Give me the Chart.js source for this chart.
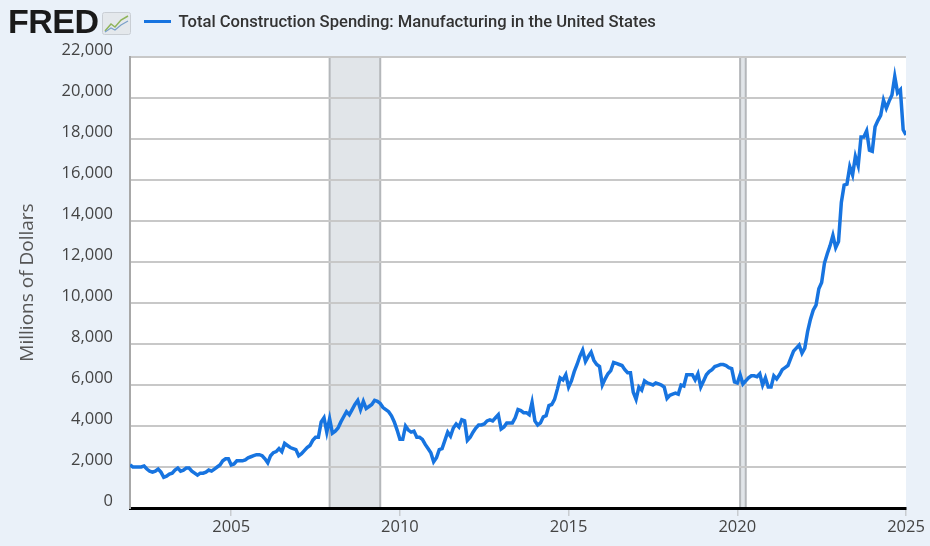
<!DOCTYPE html>
<html>
<head>
<meta charset="utf-8">
<script src="https://cdn.jsdelivr.net/npm/chart.js@4"></script>
<style>
  html, body { margin: 0; padding: 0; background: #eaf1f9; }
  #wrap { position: relative; width: 930px; height: 546px; overflow: hidden; }
  #chart { position: absolute; left: 0; top: 0; }
  #head { position: absolute; left: 8px; top: 1px; height: 40px; display: flex; align-items: center; }
  #logo { font-family: "Liberation Sans", Arial, sans-serif; font-weight: bold; font-size: 34px; letter-spacing: -0.5px; color: #1a1a1a; }
  #icon { margin-left: 3px; margin-top: 5px; }
  #key { width: 27px; height: 3px; background: #1774e0; margin-left: 13px; margin-top: 0px; }
  #title { margin-left: 8px; margin-top: 0px; font-family: Roboto, "Noto Sans", sans-serif; font-weight: 500; font-size: 16.6px; color: #333; }
</style>
</head>
<body>
<div id="wrap">
  <canvas id="chart" width="930" height="546"></canvas>
  <div id="head">
    <span id="logo">FRED</span>
    <svg id="icon" width="29" height="23" viewBox="0 0 29 23">
      <rect x="0.5" y="0.5" width="28" height="22" rx="2" fill="#e4e8ec" stroke="#c9ced4"/>
      <polyline points="3,19 9,12 13,15 19,8 26,4" fill="none" stroke="#8fb45a" stroke-width="1.5"/>
      <polyline points="3,20 9,16 13,18 19,13 26,9" fill="none" stroke="#7aa0c8" stroke-width="1.2"/>
    </svg>
    <div id="key"></div>
    <span id="title">Total Construction Spending: Manufacturing in the United States</span>
  </div>
</div>
<script>
// monthly, Jan 2002 .. Jan 2025, millions of dollars
const startYear = 2002;
const spending = [
  // 2002
  2100, 2000, 2000, 2000, 2000, 2050, 1900, 1800, 1750, 1800, 1900, 1750,
  // 2003
  1500, 1550, 1650, 1700, 1850, 1950, 1800, 1850, 1950, 1950, 1800, 1700,
  // 2004
  1600, 1700, 1700, 1750, 1850, 1800, 1900, 2000, 2100, 2300, 2400, 2400,
  // 2005
  2100, 2150, 2300, 2300, 2300, 2350, 2450, 2500, 2550, 2600, 2600, 2550,
  // 2006
  2400, 2200, 2550, 2700, 2750, 2900, 2750, 3150, 3050, 2950, 2900, 2850,
  // 2007
  2550, 2650, 2800, 2950, 3050, 3300, 3450, 3450, 4200, 4400, 3700, 4350,
  // 2008
  3650, 3750, 3900, 4200, 4450, 4700, 4550, 4800, 5050, 5250, 4800, 5200,
  // 2009
  4850, 4950, 5050, 5250, 5200, 5100, 4900, 4800, 4700, 4500, 4200, 3800,
  // 2010
  3350, 3350, 4000, 3800, 3700, 3750, 3450, 3450, 3350, 3100, 2900, 2700,
  // 2011
  2250, 2450, 2850, 2900, 3300, 3700, 3500, 3900, 4100, 3950, 4300, 4250,
  // 2012
  3300, 3450, 3700, 3900, 4050, 4050, 4100, 4250, 4300, 4250, 4400, 4550,
  // 2013
  3850, 3950, 4150, 4150, 4150, 4400, 4800, 4750, 4650, 4650, 4550, 5150,
  // 2014
  4250, 4050, 4150, 4450, 4500, 5000, 5050, 5300, 5800, 6350, 6250, 6500,
  // 2015
  5900, 6200, 6650, 7000, 7400, 7700, 7150, 7400, 7600, 7200, 7000, 6900,
  // 2016
  6000, 6300, 6550, 6700, 7100, 7050, 7000, 6950, 6750, 6600, 6600, 5650,
  // 2017
  5300, 5900, 5750, 6200, 6100, 6050, 6000, 6100, 6050, 6000, 5900, 5350,
  // 2018
  5500, 5550, 5600, 5550, 6000, 5950, 6500, 6500, 6500, 6250, 6550, 5900,
  // 2019
  6200, 6500, 6650, 6750, 6900, 6950, 7000, 7000, 6950, 6850, 6800, 6150,
  // 2020
  6100, 6500, 6050, 6200, 6350, 6450, 6450, 6400, 6550, 6000, 6350, 5900,
  // 2021
  5900, 6450, 6300, 6500, 6750, 6850, 6950, 7300, 7650, 7800, 7950, 7550,
  // 2022
  7800, 8600, 9200, 9650, 9900, 10700, 11000, 11950, 12400, 12800, 13300, 12700,
  // 2023
  13000, 14900, 15750, 15800, 16650, 16250, 17150, 16700, 18100, 18100, 18400, 17450,
  // 2024
  17400, 18600, 18900, 19150, 19900, 19500, 19850, 20150, 21050, 20250, 20400, 18450,
  // 2025
  18200
];

const yearTicks = [2005, 2010, 2015, 2020, 2025];
const recessions = [[2007 + 11 / 12, 2009 + 5 / 12], [2020 + 1 / 12, 2020 + 3 / 12]];
const yMax = 22000;
const yStep = 2000;

const points = spending.map((v, i) => ({ x: startYear + i / 12, y: v }));

const plotBackground = {
  id: 'plotBackground',
  beforeDraw(chart) {
    const { ctx, chartArea: a, scales } = chart;
    ctx.save();
    ctx.fillStyle = '#ffffff';
    ctx.fillRect(a.left, a.top, a.right - a.left, a.bottom - a.top);
    // recession bands
    recessions.forEach(([s, e]) => {
      const x1 = scales.x.getPixelForValue(s);
      const x2 = scales.x.getPixelForValue(e);
      ctx.fillStyle = '#e1e5e9';
      ctx.fillRect(x1, a.top, x2 - x1, a.bottom - a.top);
      ctx.strokeStyle = '#b4b7ba';
      ctx.lineWidth = 2;
      ctx.beginPath();
      ctx.moveTo(x1, a.top); ctx.lineTo(x1, a.bottom);
      ctx.moveTo(x2, a.top); ctx.lineTo(x2, a.bottom);
      ctx.stroke();
    });
    ctx.restore();
  },
};

new Chart(document.getElementById('chart'), {
  type: 'line',
  data: {
    datasets: [
      {
        label: 'Total Construction Spending: Manufacturing in the United States',
        data: points,
        borderColor: '#1774e0',
        borderWidth: 3.5,
        pointRadius: 0,
        tension: 0,
        fill: false,
      },
    ],
  },
  options: {
    responsive: false,
    animation: false,
    devicePixelRatio: 1,
    layout: { padding: { top: 57, right: 24, bottom: 0, left: 0 } },
    plugins: {
      legend: { display: false },
      tooltip: { enabled: false },
    },
    scales: {
      x: {
        type: 'linear',
        min: startYear,
        max: startYear + (spending.length - 1) / 12,
        afterBuildTicks: (scale) => {
          scale.ticks = yearTicks.map((v) => ({ value: v }));
        },
        afterFit: (scale) => { scale.height = 38; },
        ticks: {
          color: '#444',
          font: { family: '"Open Sans", "Noto Sans", sans-serif', size: 16.5 },
          padding: 1,
          maxRotation: 0,
          autoSkip: false,
          callback: (v) => String(v),
        },
        grid: {
          drawOnChartArea: false,
          drawTicks: true,
          tickLength: 8,
          color: '#c8ccd0',
          lineWidth: 1.5,
        },
        border: { color: '#000', width: 3 },
      },
      y: {
        min: 0,
        max: yMax,
        afterFit: (scale) => { scale.width = 130; },
        ticks: {
          stepSize: yStep,
          color: '#444',
          font: { family: '"Open Sans", "Noto Sans", sans-serif', size: 16.5 },
          padding: 17,
          labelOffset: -7,
          callback: (v) => v.toLocaleString('en-US'),
        },
        grid: {
          color: '#c8c8c8',
          lineWidth: 2,
          drawTicks: false,
        },
        border: { color: '#a8a8a8', width: 2 },
        title: {
          display: true,
          text: 'Millions of Dollars',
          color: '#555',
          font: { family: '"Open Sans", "Noto Sans", sans-serif', size: 19 },
          padding: { top: 16, bottom: 0 },
        },
      },
    },
  },
  plugins: [plotBackground],
});
</script>
</body>
</html>
